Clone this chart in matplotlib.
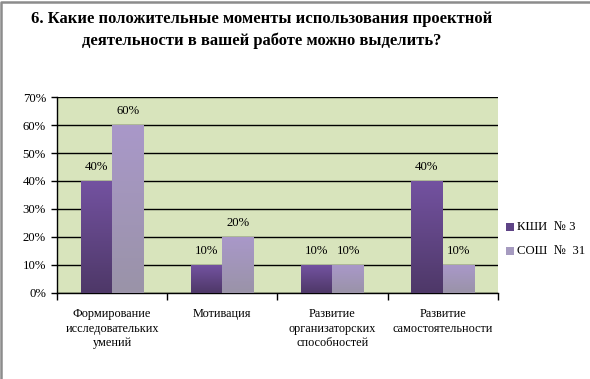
import matplotlib.pyplot as plt
import numpy as np
from matplotlib.patches import Rectangle
from matplotlib.lines import Line2D
from matplotlib.colors import LinearSegmentedColormap

plt.rcParams['font.family'] = ['Liberation Serif', 'DejaVu Serif']

# data
categories = ['Формирование\nисследовательких\nумений', 'Мотивация',
              'Развитие\nорганизаторских\nспособностей', 'Развитие\nсамостоятельности']
series_names = ['КШИ  № 3', 'СОШ  №  31']
kshi = [40, 10, 10, 40]
sosh = [60, 20, 10, 10]
yticks = [0, 10, 20, 30, 40, 50, 60, 70]

# gradient colours (top, bottom) for each series
dark_grad = ('#7352a0', '#4e3868')
light_grad = ('#a998c9', '#9a93a8')
legend_colors = ['#5e4486', '#a69bc0']

fig = plt.figure(figsize=(5.9, 3.79), dpi=100)
ax = fig.add_axes([0.0966, 0.227, 0.747, 0.517])
ax.set_facecolor('#d8e4bc')

x = np.arange(len(categories))
w = 0.286


def grad_bar(xc, h, cols):
    cmap = LinearSegmentedColormap.from_list('g', [cols[1], cols[0]])
    grad = np.linspace(0, 1, 64).reshape(-1, 1)
    im = ax.imshow(grad, cmap=cmap, origin='lower', aspect='auto',
                   extent=[xc - w / 2, xc + w / 2, 0, h], zorder=3)
    return im


fs = 9.2
for i in range(len(categories)):
    grad_bar(x[i] - w / 2, kshi[i], dark_grad)
    grad_bar(x[i] + w / 2, sosh[i], light_grad)
    ax.text(x[i] - w / 2, kshi[i] + 3.0, f'{kshi[i]}%', ha='center', va='bottom', fontsize=fs)
    ax.text(x[i] + w / 2, sosh[i] + 3.0, f'{sosh[i]}%', ha='center', va='bottom', fontsize=fs)

ax.set_xlim(-0.5, len(categories) - 0.5)
ax.set_ylim(0, 70)
ax.set_yticks(yticks)
ax.set_yticklabels([f'{v}%' for v in yticks], fontsize=fs)
ax.yaxis.grid(True, color='black', linewidth=1)
ax.set_axisbelow(True)

ax.set_xticks(np.arange(-0.5, len(categories)), minor=False)
ax.set_xticklabels([])
ax.tick_params(axis='x', length=5, width=1, direction='out')
ax.tick_params(axis='y', length=4, width=1, direction='out', pad=4)
for i, c in enumerate(categories):
    ax.text(x[i], -5.3, c, ha='center', va='top', fontsize=8.8, linespacing=1.3)

for s in ['top', 'right']:
    ax.spines[s].set_visible(False)
ax.spines['left'].set_linewidth(1)
ax.spines['bottom'].set_linewidth(1)

# legend
for j, (name, col) in enumerate(zip(series_names, legend_colors)):
    yy = 1 - (227 + j * 24) / 379
    fig.patches.append(Rectangle((506 / 590, yy - 4 / 379), 8 / 590, 8 / 379,
                                 transform=fig.transFigure, facecolor=col, edgecolor='none'))
    fig.text(517 / 590, yy, name, fontsize=fs, va='center', ha='left')

fig.text(262 / 590, 1 - 30 / 379,
         '6. Какие положительные моменты использования проектной\nдеятельности в вашей работе можно выделить?',
         ha='center', va='center', fontsize=12, fontweight='bold', linespacing=1.45)

# frame: only left and top edges are visible in the original
fig.lines.append(Line2D([0.002, 0.002, 1.0], [0.0, 0.996, 0.996], transform=fig.transFigure,
                        color='#8c8c8c', linewidth=1.8))

fig.savefig('out.png', dpi=100)
